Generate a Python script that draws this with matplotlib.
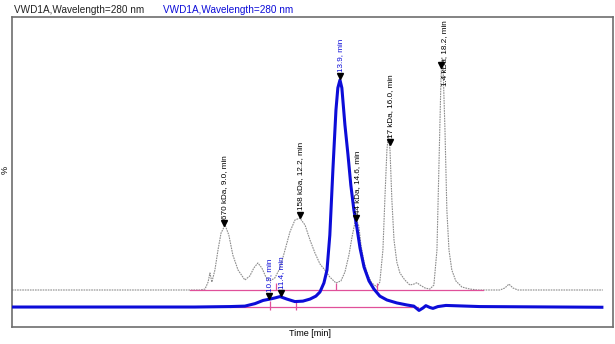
import numpy as np
import matplotlib
matplotlib.use("Agg")
import matplotlib.pyplot as plt
import matplotlib.transforms as mtransforms

plt.rcParams['font.family'] = ['Liberation Sans', 'DejaVu Sans']

# standards run (grey), signal above its own baseline
std_time = [0.00, 7.97, 8.18, 8.31, 8.39, 8.47, 8.60, 8.73, 8.86, 9.03, 9.19, 9.36,
            9.58, 9.87, 10.08, 10.25, 10.42, 10.59, 10.76, 10.93, 11.14, 11.36, 11.57,
            11.78, 11.99, 12.20, 12.42, 12.63, 12.84, 13.05, 13.26, 13.47, 13.73, 13.94,
            14.11, 14.28, 14.41, 14.53, 14.62, 14.70, 14.79, 14.92, 15.08, 15.25, 15.47,
            15.59, 15.72, 15.81, 15.89, 15.95, 16.02, 16.10, 16.19, 16.31, 16.44, 16.65,
            16.86, 17.03, 17.16, 17.29, 17.50, 17.71, 17.88, 18.01, 18.09, 18.18, 18.22,
            18.26, 18.35, 18.43, 18.52, 18.64, 18.81, 19.07, 19.41, 19.75, 20.68, 20.89,
            21.06, 21.23, 21.44, 25.04]
std_signal = [0.0, 0.0, 0.4, 3.5, 7.5, 3.5, 8.8, 17.6, 25.1, 28.6, 24.2, 15.4,
              8.8, 4.4, 6.2, 9.7, 11.9, 9.7, 5.7, 4.0, 5.3, 9.7, 17.6,
              25.6, 30.8, 31.7, 28.6, 22.0, 16.3, 11.5, 8.8, 5.7, 3.1, 4.0,
              7.9, 15.4, 23.3, 29.5, 30.4, 28.2, 19.8, 12.3, 6.6, 3.1, 1.3,
              3.5, 17.6, 41.9, 61.7, 68.3, 61.7, 39.6, 22.0, 12.3, 7.5, 4.4,
              2.2, 2.6, 3.2, 2.2, 0.9, 0.4, 2.2, 17.6, 52.9, 92.5, 102.2,
              101.3, 70.5, 35.2, 17.6, 8.8, 4.0, 1.3, 0.4, 0.0, 0.0, 0.9,
              2.6, 0.9, 0.0, 0.0]
std_offset = 7.5

# sample run (blue)
smp_time = [0.00, 7.75, 9.24, 9.87, 10.30, 10.64, 10.93, 11.14, 11.36, 11.65, 11.99,
            12.33, 12.63, 12.88, 13.05, 13.22, 13.35, 13.47, 13.60, 13.73, 13.81, 13.90,
            13.98, 14.11, 14.24, 14.36, 14.49, 14.62, 14.75, 14.92, 15.13, 15.34, 15.59,
            15.89, 16.31, 16.74, 17.03, 17.25, 17.42, 17.54, 17.71, 17.84, 18.05, 18.39,
            19.83, 25.00]
smp_signal = [0.0, 0.0, 0.2, 0.4, 1.5, 2.9, 3.5, 4.0, 4.6, 3.5, 2.4,
              2.6, 3.5, 4.8, 6.6, 10.6, 16.3, 31.7, 60.4, 86.8, 96.5, 100.0,
              96.5, 80.2, 67.0, 53.7, 42.7, 34.8, 26.0, 17.6, 11.5, 7.9, 4.8,
              3.1, 1.8, 0.9, 0.4, -1.5, -0.4, 0.6, -0.2, -0.6, 0.2, 0.7,
              0.2, -0.1]

std_peaks = [9.0, 12.2, 14.6, 16.0, 18.2]
std_labels = ["670 kDa, 9.0, min", "158 kDa, 12.2, min", "44 kDa, 14.6, min",
              "17 kDa, 16.0, min", "1.4 kDa, 18.2, min"]
smp_peaks = [10.9, 11.4, 13.9]
smp_labels = ["10.9, min", "11.4, min", "13.9, min"]

# integration baselines and peak splits
std_base = (7.54, 19.96)
smp_base = (9.24, 17.20)
std_splits = [11.2, 13.75, 15.45]
smp_splits = [10.93, 12.03]

title = "VWD1A,Wavelength=280 nm"
BLUE = "#0c0cd8"
PINK = "#e0509a"

fig = plt.figure(figsize=(6.15, 3.44), dpi=100)
ax = fig.add_axes([0.0195, 0.0494, 0.9772, 0.9003])

std_y = np.array(std_signal) + std_offset
ax.plot(std_time, std_y, color="#8c8c8c", lw=0.8, ls=(0, (1.5, 0.8)), zorder=2)

ax.plot(smp_time, smp_signal, color=BLUE, lw=2.2, zorder=4, solid_joinstyle="round")

# baselines
ax.plot(std_base, [std_offset, std_offset], color=PINK, lw=0.9, zorder=3)
ax.plot(smp_base, [0, 0], color=PINK, lw=0.9, zorder=3)
ax.vlines(std_splits, std_offset, std_offset + 3.0, color=PINK, lw=0.9, zorder=3)
ax.vlines(smp_splits, -1.5, 2.5, color=PINK, lw=0.9, zorder=3)

mark_tf = mtransforms.offset_copy(ax.transData, fig=fig, y=2.5, units="points")
text_tf = mtransforms.offset_copy(ax.transData, fig=fig, x=0.5, y=5.5, units="points")
low_tf = mtransforms.offset_copy(ax.transData, fig=fig, x=2.5, y=-12, units="points")

for t, lab in zip(std_peaks, std_labels):
    y = np.interp(t, std_time, std_y)
    ax.plot(t, y, marker="v", color="black", ms=4.5, transform=mark_tf, zorder=5)
    tf = low_tf if t == std_peaks[-1] else text_tf
    ax.text(t, y, lab, rotation=90, ha="center", va="bottom", fontsize=5.9,
            color="black", transform=tf, zorder=6, clip_on=True)

for t, lab in zip(smp_peaks, smp_labels):
    y = np.interp(t, smp_time, smp_signal)
    ax.plot(t, y, marker="v", color="black", ms=4.5, transform=mark_tf, zorder=5)
    ax.text(t, y, lab, rotation=90, ha="center", va="bottom", fontsize=5.9,
            color=BLUE, transform=text_tf, zorder=6, clip_on=True)

ax.set_xlim(0, 25.47)
ax.set_ylim(-8.8, 127.6)
ax.set_xticks([])
ax.set_yticks([])
for s in ax.spines.values():
    s.set_color("#6e6e6e")
    s.set_linewidth(1.2)

fig.text(14 / 615, 1 - 10 / 344, title, fontsize=7.2, color="#222222", va="center")
fig.text(163 / 615, 1 - 10 / 344, title, fontsize=7.2, color=BLUE, va="center")
fig.text(310 / 615, 1 - 334 / 344, "Time [min]", fontsize=6.5, ha="center", va="center")
fig.text(5 / 615, 1 - 170 / 344, "%", fontsize=6.5, rotation=90, ha="center", va="center")

fig.savefig("out.png", dpi=100)
